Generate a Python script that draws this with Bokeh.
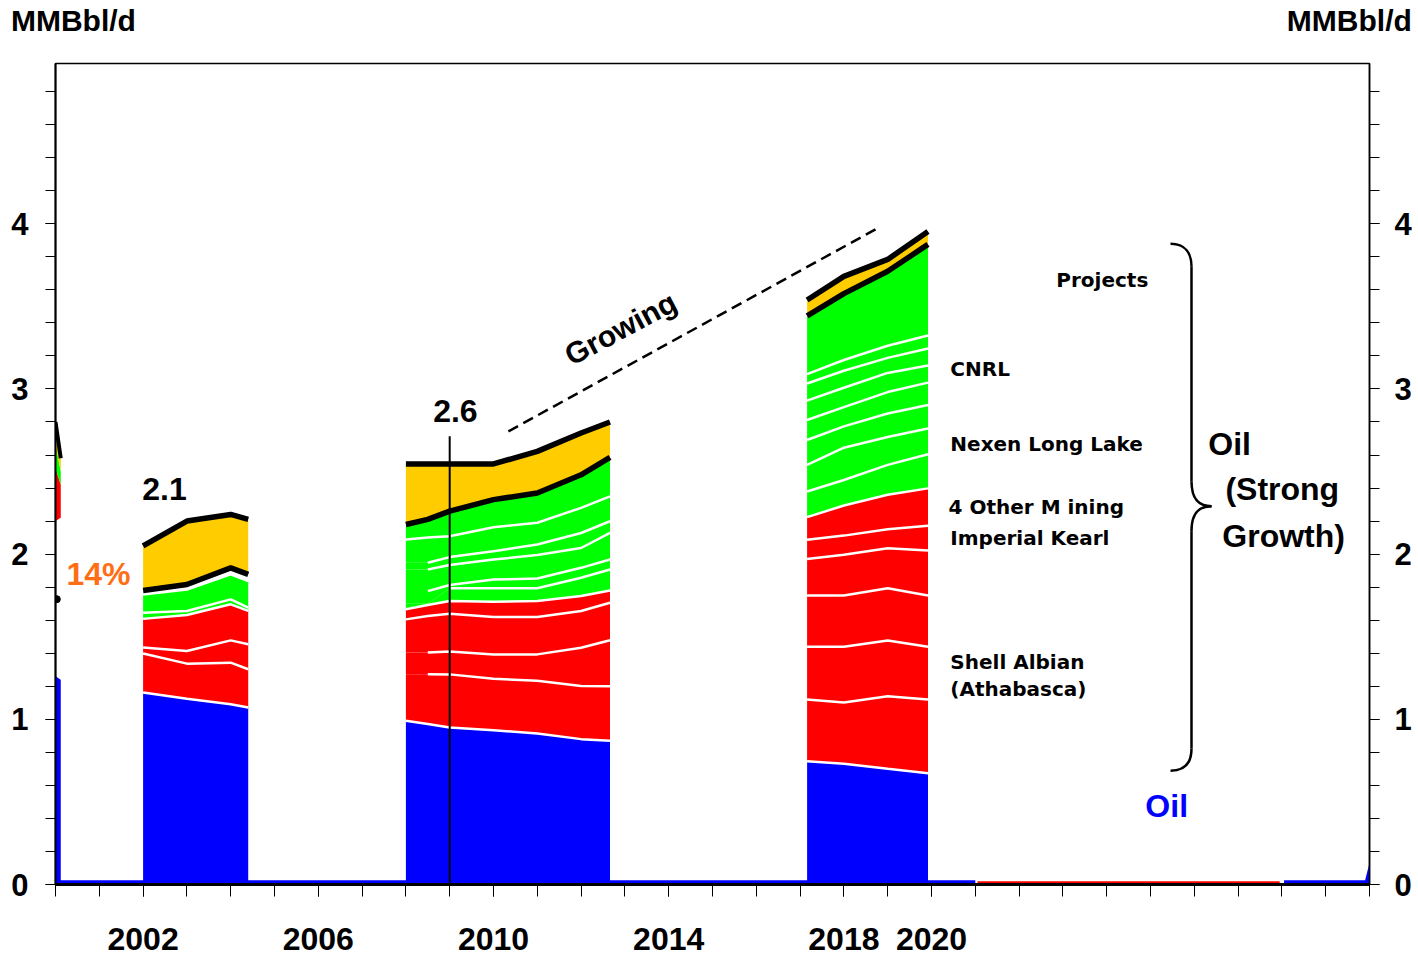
import numpy as np
from bokeh.plotting import figure
from bokeh.models import Range1d, LinearAxis, FixedTicker, Label
from bokeh.embed import file_html
from bokeh.resources import INLINE

BLUE = "#0000FF"
RED = "#FF0000"
GREEN = "#00FF00"
YELLOW = "#FFCC00"
ORANGE = "#FF6E14"

# ---------------- data (MMBbl/d, stacked layer thicknesses) ----------------
x_labels = [2002, 2006, 2010, 2014, 2018, 2020]
x_minor = list(range(2000, 2031))
y_labels = [0, 1, 2, 3, 4]
y_minor = [round(0.2 * i, 1) for i in range(0, 25)]
unit_label = "MMBbl/d"
unit_label_pos = [2000.41, 2029.54]

# sliver visible at the left edge (2000)
years_0 = [2000.0, 2000.12]
s0_oil = [1.26, 1.24]
s0_hidden = [0.94, 0.98]
s0_mining = [0.32, 0.20]
s0_insitu = [0.14, 0.08]
s0_other = [0.14, 0.08]

# segment 2002-2004
years_a = [2002.0, 2003.0, 2004.0, 2004.4]
a_oil = [1.162, 1.124, 1.091, 1.071]
a_min1 = [0.236, 0.213, 0.252, 0.232]
a_min2 = [0.036, 0.077, 0.135, 0.151]
a_min3 = [0.174, 0.217, 0.218, 0.202]
a_ins1 = [0.037, 0.025, 0.030, 0.020]
a_ins2 = [0.111, 0.130, 0.151, 0.161]
a_sep = [0.024, 0.030, 0.040, 0.040]
a_other = [0.270, 0.384, 0.323, 0.333]

# segment 2008-2012
years_b = [2008.0, 2008.5, 2009.0, 2010.0, 2011.0, 2012.0, 2012.66]
b_oil = [0.991, 0.971, 0.950, 0.934, 0.914, 0.880, 0.870]
b_min1 = [0.282, 0.302, 0.322, 0.312, 0.319, 0.322, 0.330]
b_min2 = [0.131, 0.131, 0.138, 0.147, 0.160, 0.231, 0.279]
b_min3 = [0.201, 0.221, 0.229, 0.226, 0.226, 0.223, 0.227]
b_min4 = [0.061, 0.067, 0.077, 0.093, 0.097, 0.090, 0.074]
b_ins1 = [0.034, 0.008, 0.077, 0.081, 0.077, 0.111, 0.127]
b_ins2 = [0.076, 0.076, 0.020, 0.053, 0.059, 0.060, 0.060]
b_ins3 = [0.131, 0.131, 0.121, 0.121, 0.142, 0.120, 0.161]
b_ins4 = [0.041, 0.041, 0.048, 0.051, 0.064, 0.091, 0.071]
b_ins5 = [0.140, 0.152, 0.126, 0.145, 0.132, 0.152, 0.151]
b_ins6 = [0.091, 0.110, 0.152, 0.167, 0.180, 0.200, 0.236]
b_other = [0.367, 0.336, 0.286, 0.216, 0.252, 0.253, 0.214]

# segment 2017-2020
years_c = [2017.16, 2018.0, 2019.0, 2019.92]
c_oil = [0.746, 0.731, 0.700, 0.674]
c_min1 = [0.374, 0.371, 0.440, 0.446]
c_min2 = [0.319, 0.337, 0.337, 0.319]
c_min3 = [0.311, 0.311, 0.317, 0.311]
c_min4 = [0.220, 0.246, 0.241, 0.272]
c_min5 = [0.117, 0.116, 0.116, 0.150]
c_min6 = [0.137, 0.182, 0.208, 0.226]
c_ins1 = [0.155, 0.155, 0.181, 0.207]
c_ins2 = [0.161, 0.195, 0.169, 0.156]
c_ins3 = [0.151, 0.129, 0.142, 0.142]
c_ins4 = [0.121, 0.117, 0.130, 0.135]
c_ins5 = [0.117, 0.117, 0.116, 0.104]
c_ins6 = [0.104, 0.103, 0.091, 0.103]
c_ins7 = [0.057, 0.065, 0.073, 0.078]
c_ins8 = [0.352, 0.402, 0.451, 0.552]
c_other = [0.096, 0.104, 0.072, 0.078]

# thin base strips along the x axis
strip1_x = [2000.0, 2021.0]
strip1_y = [0.025, 0.025]
strip2_x = [2021.05, 2027.95]
strip2_y = [0.02, 0.02]
strip3_x = [2028.05, 2030.0]
strip3_y = [0.025, 0.025]
spike_x = [2029.9, 2030.0]
spike_y = [0.025, 0.13]

# ---------------- figure ----------------
p = figure(width=1414, height=956, output_backend="svg", toolbar_location=None,
           x_range=Range1d(2000, 2030), y_range=Range1d(0, 4.97),
           min_border_left=55, min_border_right=45, min_border_top=61,
           min_border_bottom=72, background_fill_color="white",
           border_fill_color="white")
p.xgrid.visible = False
p.ygrid.visible = False
p.outline_line_color = "black"
p.outline_line_width = 1.5

FONT = "Liberation Sans"


def style_axis(ax, tick_out, standoff, lw, size):
    ax.major_tick_out = tick_out
    ax.minor_tick_out = tick_out
    ax.major_tick_in = 0
    ax.minor_tick_in = 0
    ax.major_tick_line_color = "black"
    ax.minor_tick_line_color = "black"
    ax.major_tick_line_width = 1
    ax.minor_tick_line_width = 1
    ax.axis_line_color = "black"
    ax.axis_line_width = lw
    ax.major_label_text_font = FONT
    ax.major_label_text_font_style = "bold"
    ax.major_label_text_color = "black"
    ax.major_label_text_font_size = size
    ax.major_label_standoff = standoff


p.xaxis.ticker = FixedTicker(ticks=x_labels, minor_ticks=x_minor)
style_axis(p.xaxis[0], 12, 31, 3, "32px")

p.yaxis.ticker = FixedTicker(ticks=y_labels, minor_ticks=y_minor)
style_axis(p.yaxis[0], 10, 17, 2, "31px")

ry = LinearAxis(ticker=FixedTicker(ticks=y_labels, minor_ticks=y_minor))
style_axis(ry, 10, 15, 1.5, "31px")
p.add_layout(ry, "right")

# unit labels above the frame (an axis without line or ticks)
top_ax = LinearAxis(ticker=FixedTicker(ticks=unit_label_pos, minor_ticks=[]),
                    major_label_overrides={v: unit_label for v in unit_label_pos})
style_axis(top_ax, 0, 27, 0, "30px")
top_ax.axis_line_color = None
top_ax.major_tick_line_color = None
top_ax.minor_tick_line_color = None
p.add_layout(top_ax, "above")

# base strips
p.varea(x=strip1_x, y1=[0, 0], y2=strip1_y, fill_color=BLUE)
p.varea(x=strip2_x, y1=[0, 0], y2=strip2_y, fill_color=RED)
p.varea(x=strip3_x, y1=[0, 0], y2=strip3_y, fill_color=BLUE)
p.varea(x=spike_x, y1=[0, 0], y2=spike_y, fill_color=BLUE)


def draw_segment(years, layers, colors, white_lines, black_lines, bw=5.5):
    arr = np.array(layers, dtype=float)
    tops = np.cumsum(arr, axis=0)
    bottoms = np.vstack([np.zeros(len(years)), tops[:-1]])
    for i, col in enumerate(colors):
        if col is None:
            continue
        p.varea(x=years, y1=bottoms[i], y2=tops[i], fill_color=col)
    for i, start in white_lines:
        p.line(x=years[start:], y=tops[i][start:], line_color="white",
               line_width=2.5)
    for i in black_lines:
        p.line(x=years, y=tops[i], line_color="black", line_width=bw)


draw_segment(years_0, [s0_oil, s0_hidden, s0_mining, s0_insitu, s0_other],
             [BLUE, None, RED, GREEN, YELLOW], [], [4], bw=4)

draw_segment(years_a,
             [a_oil, a_min1, a_min2, a_min3, a_ins1, a_ins2, a_sep, a_other],
             [BLUE, RED, RED, RED, GREEN, GREEN, None, YELLOW],
             [(0, 0), (1, 0), (2, 0), (3, 0), (4, 0), (5, 0)], [6, 7])

draw_segment(years_b,
             [b_oil, b_min1, b_min2, b_min3, b_min4, b_ins1, b_ins2, b_ins3,
              b_ins4, b_ins5, b_ins6, b_other],
             [BLUE, RED, RED, RED, RED, GREEN, GREEN, GREEN, GREEN, GREEN,
              GREEN, YELLOW],
             [(0, 0), (1, 1), (2, 1), (3, 0), (4, 0), (5, 2), (6, 1), (7, 1),
              (8, 1), (9, 0)], [10, 11])

draw_segment(years_c,
             [c_oil, c_min1, c_min2, c_min3, c_min4, c_min5, c_min6, c_ins1,
              c_ins2, c_ins3, c_ins4, c_ins5, c_ins6, c_ins7, c_ins8, c_other],
             [BLUE] + [RED] * 6 + [GREEN] * 8 + [YELLOW],
             [(i, 0) for i in range(14)], [14, 15])

# dot on the left axis
p.scatter(x=[2000.03], y=[1.727], size=7, color="black")

# vertical marker at 2009
p.segment(x0=[2009.0], y0=[0.0], x1=[2009.0], y1=[2.713], line_color="black",
          line_width=2)

# growth trend line
p.line(x=[2010.34, 2018.79], y=[2.743, 3.976], line_color="black",
       line_width=2.5, line_dash="11 6")

# curly brace
p.bezier(x0=[2025.457, 2025.936, 2026.393, 2025.936],
         y0=[3.879, 2.441, 2.290, 0.822],
         x1=[2025.936, 2026.393, 2025.936, 2025.457],
         y1=[3.740, 2.290, 2.139, 0.689],
         cx0=[2025.799, 2025.936, 2026.142, 2025.936],
         cy0=[3.879, 2.320, 2.290, 0.737],
         cx1=[2025.936, 2026.142, 2025.936, 2025.799],
         cy1=[3.819, 2.290, 2.260, 0.689],
         line_color="black", line_width=2.5)
p.segment(x0=[2025.936, 2025.936], y0=[3.740, 2.139],
          x1=[2025.936, 2025.936], y1=[2.441, 0.822],
          line_color="black", line_width=2.5)


def label(x, y, text, size, color="black", align="left", font=FONT,
          angle=0.0, style="bold"):
    p.add_layout(Label(x=x, y=y, text=text, text_font=font,
                       text_font_style=style, text_font_size=size,
                       text_color=color, text_align=align,
                       text_baseline="middle", angle=angle))


label(2002.49, 2.393, "2.1", "32px", align="center")
label(2009.13, 2.864, "2.6", "32px", align="center")
label(2000.98, 1.879, "14%", "32px", color=ORANGE, align="center")
label(2012.90, 3.366, "Growing", "30px", align="center", angle=0.49)

SIDE = "DejaVu Sans"
label(2022.85, 3.662, "Projects", "20px", font=SIDE)
label(2020.43, 3.118, "CNRL", "20px", font=SIDE)
label(2020.43, 2.665, "Nexen Long Lake", "20px", font=SIDE)
label(2020.39, 2.284, "4 Other M ining", "20px", font=SIDE)
label(2020.43, 2.097, "Imperial Kearl", "20px", font=SIDE)
label(2020.43, 1.347, "Shell Albian", "20px", font=SIDE)
label(2020.43, 1.184, "(Athabasca)", "20px", font=SIDE)

label(2026.32, 2.665, "Oil", "32px")
label(2026.71, 2.393, "(Strong", "32px")
label(2026.64, 2.109, "Growth)", "32px")
label(2025.37, 0.477, "Oil", "32px", color=BLUE, align="center")

open("out.html", "w").write(file_html(p, INLINE))
